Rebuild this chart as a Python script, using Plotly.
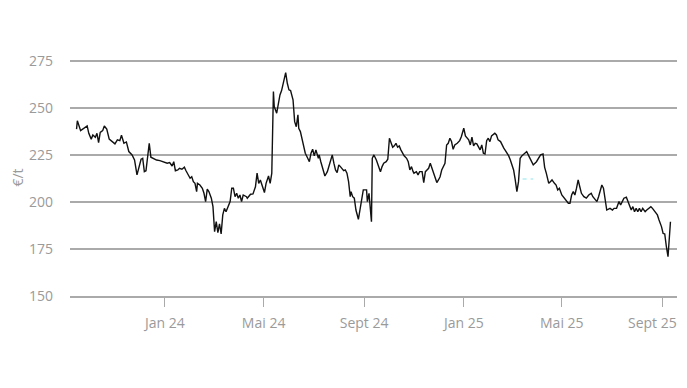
import pandas as pd
import plotly.graph_objects as go

start_date = "2023-09-14"
day_offset = [1, 2, 6, 10, 14, 16, 19, 21, 24, 26, 28, 30, 33, 35, 38, 41, 45, 48, 51, 54, 56, 59, 62, 65, 69, 72, 75, 77, 80, 82, 84, 86, 90, 92, 95, 99, 103, 107, 112, 115, 118, 120, 122, 125, 127, 130, 133, 135, 138, 140, 142, 144, 146, 148, 149, 152, 155, 157, 159, 161, 163, 166, 168, 170, 172, 174, 176, 178, 180, 182, 184, 187, 189, 191, 193, 195, 197, 199, 201, 203, 205, 209, 210, 214, 217, 220, 222, 224, 226, 228, 231, 233, 236, 238, 240, 242, 243, 246, 250, 252, 254, 257, 259, 261, 263, 266, 268, 270, 272, 273, 275, 277, 279, 281, 284, 286, 288, 290, 292, 294, 297, 298, 300, 303, 305, 308, 312, 314, 316, 318, 320, 322, 324, 326, 328, 330, 332, 334, 336, 337, 339, 341, 343, 346, 348, 350, 352, 356, 357, 359, 361, 362, 363, 365, 368, 371, 373, 375, 377, 380, 382, 384, 386, 388, 390, 392, 394, 396, 398, 400, 402, 405, 407, 409, 411, 413, 414, 417, 419, 421, 424, 426, 428, 430, 432, 434, 436, 438, 440, 442, 444, 446, 448, 450, 452, 454, 456, 458, 460, 462, 464, 467, 470, 472, 475, 477, 479, 481, 483, 485, 487, 489, 491, 493, 495, 497, 499, 501, 503, 505, 507, 509, 511, 513, 515, 517, 520, 522, 524, 526, 528, 530, 532, 534, 536, 538, 540, 542, 544, 546, 549, 552, 555, 558, 560, 564, 566, 569, 572, 574, 576, 579, 581, 583, 586, 588, 590, 592, 595, 598, 600, 603, 605, 607, 609, 611, 613, 615, 617, 619, 622, 625, 628, 631, 633, 636, 638, 640, 642, 644, 646, 648, 650, 654, 657, 659, 662, 665, 667, 669, 671, 674, 676, 678, 680, 682, 684, 686, 688, 690, 692, 694, 697, 699, 701, 704, 706, 709, 712, 714, 717, 719, 721, 723, 725, 728]
price = [238.7, 243.2, 237.9, 239.2, 240.4, 236.5, 233.4, 235.6, 234.4, 236.5, 231.5, 237.0, 237.9, 240.4, 238.7, 233.4, 232.1, 230.9, 233.0, 232.6, 235.5, 231.2, 231.9, 226.8, 225.0, 222.3, 214.4, 217.9, 222.7, 223.2, 216.1, 216.6, 231.2, 223.8, 223.2, 222.3, 222.0, 221.4, 220.6, 220.9, 219.1, 221.4, 216.6, 217.0, 217.9, 217.4, 218.5, 216.6, 213.8, 212.6, 213.4, 210.8, 209.9, 205.5, 209.9, 209.0, 207.3, 204.6, 200.2, 206.8, 205.5, 202.0, 197.5, 184.2, 189.5, 183.7, 188.3, 183.0, 193.1, 196.6, 194.8, 197.5, 200.2, 207.3, 207.3, 202.8, 204.6, 202.0, 203.7, 200.2, 203.7, 202.8, 202.0, 204.1, 204.3, 208.1, 215.3, 209.9, 211.7, 209.0, 205.0, 209.9, 213.8, 209.9, 215.3, 258.7, 250.7, 247.2, 256.9, 259.2, 263.1, 268.8, 263.1, 259.6, 259.2, 254.3, 242.7, 240.0, 246.3, 239.2, 237.4, 233.0, 229.1, 225.9, 223.2, 221.4, 225.9, 228.0, 224.5, 227.7, 223.2, 225.0, 221.4, 217.0, 213.8, 216.1, 222.3, 225.0, 220.6, 217.0, 215.6, 219.7, 218.8, 217.4, 216.6, 217.0, 215.3, 210.8, 202.8, 205.5, 202.8, 202.0, 195.7, 190.8, 195.7, 202.8, 206.4, 206.4, 200.2, 204.6, 196.6, 189.5, 223.2, 225.0, 222.3, 217.9, 216.1, 218.8, 220.6, 221.4, 222.7, 233.9, 230.9, 229.1, 229.8, 231.2, 229.1, 229.8, 227.7, 225.9, 224.5, 223.2, 221.4, 217.0, 218.8, 216.1, 215.3, 216.1, 214.4, 216.1, 216.1, 210.3, 216.1, 217.0, 217.9, 220.6, 217.9, 215.3, 212.6, 210.3, 211.7, 213.4, 217.0, 218.8, 220.6, 230.3, 231.2, 233.9, 232.1, 228.0, 230.3, 231.2, 232.6, 234.7, 239.2, 235.1, 233.9, 233.0, 230.3, 234.4, 229.8, 231.2, 230.9, 229.4, 227.7, 230.3, 225.9, 225.5, 232.6, 233.9, 232.1, 235.1, 235.6, 236.5, 235.6, 233.0, 232.1, 229.8, 228.6, 227.3, 225.9, 224.5, 222.3, 219.7, 217.0, 211.7, 205.5, 210.8, 223.2, 224.5, 225.9, 226.8, 224.1, 221.4, 219.7, 221.4, 223.2, 225.0, 225.5, 218.4, 215.3, 209.9, 210.8, 211.7, 209.9, 209.0, 206.4, 207.3, 203.7, 202.0, 201.1, 199.3, 199.3, 203.7, 205.5, 203.7, 207.3, 211.7, 208.1, 204.6, 202.8, 202.0, 203.7, 204.6, 202.8, 201.1, 200.2, 202.8, 205.5, 209.0, 207.3, 202.0, 195.7, 196.6, 195.7, 196.6, 196.6, 200.2, 198.4, 200.2, 202.0, 202.5, 200.2, 198.4, 195.7, 197.5, 194.8, 196.6, 194.8, 196.6, 194.8, 196.6, 194.8, 195.7, 196.6, 197.5, 196.6, 194.8, 193.1, 190.4, 186.9, 183.3, 183.0, 176.2, 170.9, 189.5]

ref_dates = ["2025-03-14", "2025-03-27"]
ref_values = [212.2, 212.2]

tick_dates = ["2024-01-01", "2024-05-01", "2024-09-01", "2025-01-01", "2025-05-01", "2025-09-01"]
tick_labels = ["Jan 24", "Mai 24", "Sept 24", "Jan 25", "Mai 25", "Sept 25"]
y_ticks = [150, 175, 200, 225, 250, 275]

dates = pd.to_datetime(start_date) + pd.to_timedelta(day_offset, unit="D")

FONT = "Open Sans"
GREY = "#9a9a9a"

fig = go.Figure()
fig.add_trace(go.Scatter(x=dates, y=price, mode="lines",
                         line=dict(color="#111111", width=1.4), showlegend=False))
fig.add_trace(go.Scatter(x=pd.to_datetime(ref_dates), y=ref_values, mode="lines",
                         line=dict(color="#8fe3ea", width=1.2, dash="4px,4px"), showlegend=False))

# the last tick label sits slightly left of its tick so it stays inside the frame
shown_text = tick_labels[:-1] + [""]
fig.add_annotation(x=pd.to_datetime(tick_dates[-1]), y=0, xref="x", yref="paper",
                   text=tick_labels[-1], showarrow=False, xanchor="center", yanchor="top",
                   xshift=-10, yshift=-15,
                   font=dict(family=FONT, size=14, color=GREY))

fig.update_layout(
    width=679, height=380,
    margin=dict(l=62, r=10, t=51, b=92),
    paper_bgcolor="white", plot_bgcolor="white",
    font=dict(family=FONT, size=14, color=GREY),
    xaxis=dict(
        range=["2023-09-07", "2025-09-19"],
        tickvals=pd.to_datetime(tick_dates), ticktext=shown_text,
        ticks="outside", ticklen=9, tickcolor="#aaaaaa", tickwidth=1.2,
        showgrid=False, showline=True, linecolor="#aaaaaa", linewidth=1.5,
        zeroline=False, automargin=False,
        ticklabelstandoff=4,
        tickfont=dict(family=FONT, size=14, color=GREY),
    ),
    yaxis=dict(
        range=[150, 276],
        tickvals=y_ticks,
        showgrid=True, gridcolor="#aaaaaa", gridwidth=1.5,
        showline=False, zeroline=False, ticks="",
        ticklabelstandoff=16,
        tickfont=dict(family=FONT, size=14, color=GREY),
        title=dict(text="€/t", standoff=3, font=dict(family=FONT, size=14, color=GREY)),
        automargin=False,
    ),
)

fig.write_html("out.html")
